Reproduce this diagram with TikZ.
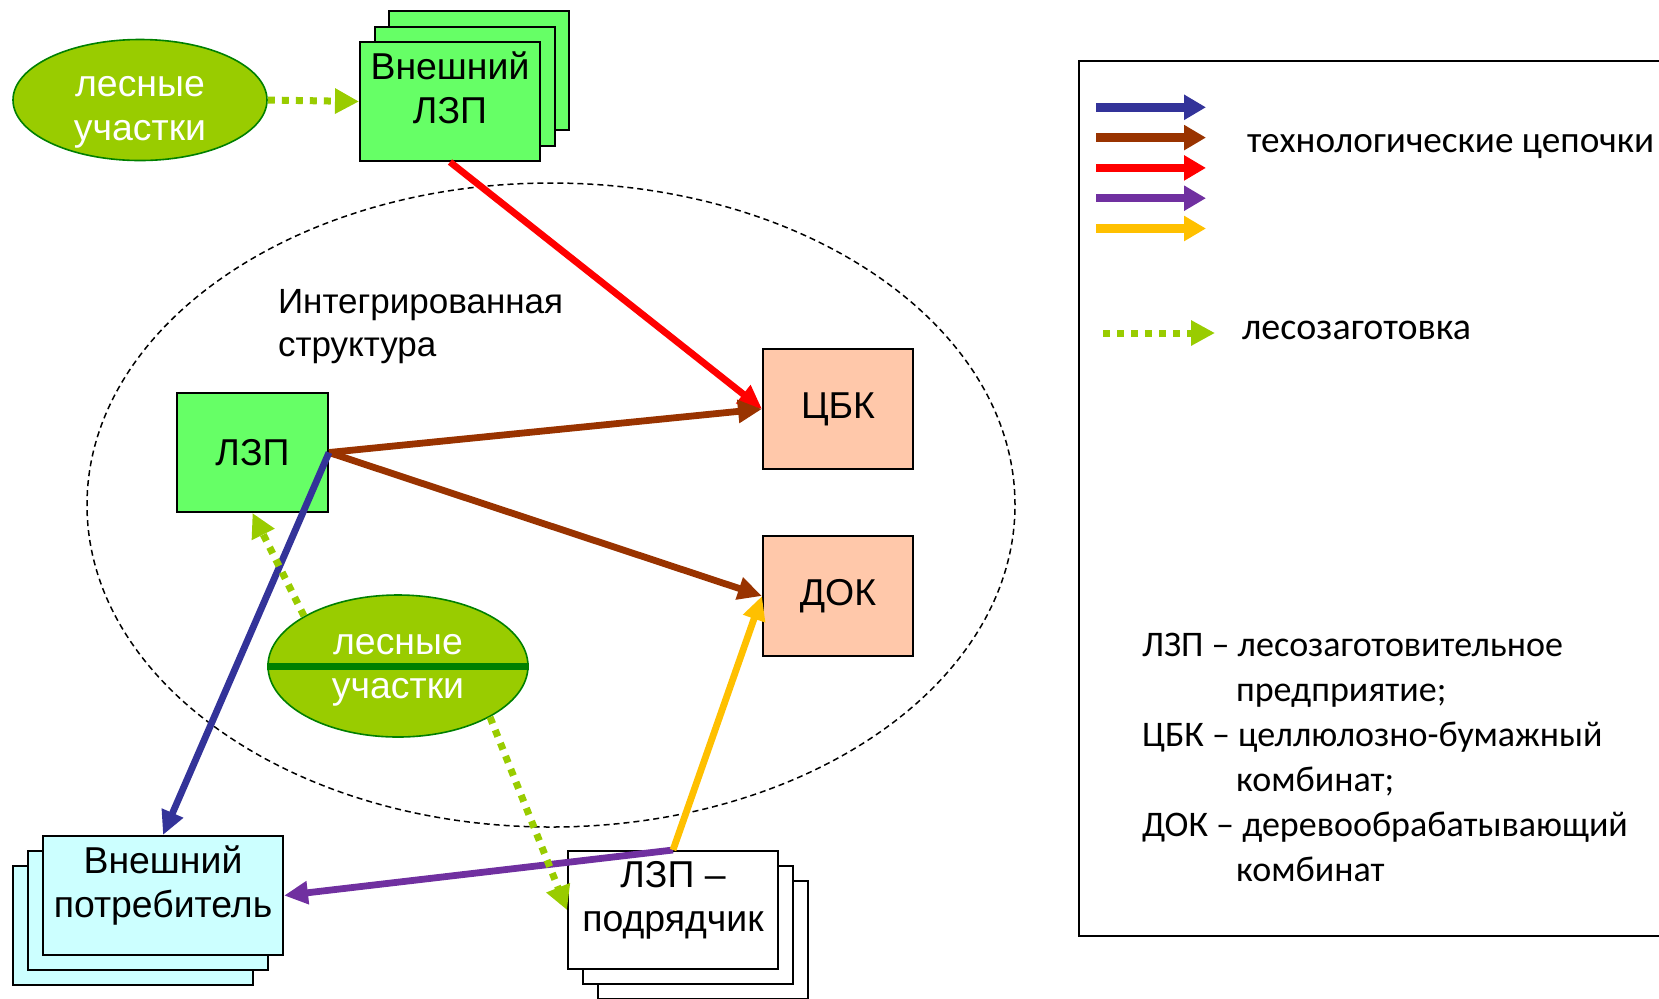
\documentclass[tikz,border=0pt]{standalone}
\usepackage{fontspec}
\setmainfont{Liberation Sans}
\newfontfamily\legendfont{Carlito}
\usetikzlibrary{positioning, shapes.geometric, arrows.meta}
\definecolor{boxgreen}{HTML}{66FF66}
\definecolor{forestfill}{HTML}{99CC00}
\definecolor{forestdark}{HTML}{008000}
\definecolor{peach}{HTML}{FFC8AA}
\definecolor{palecyan}{HTML}{CCFFFF}
\definecolor{chainblue}{HTML}{333399}
\definecolor{chainbrown}{HTML}{993300}
\definecolor{chainred}{HTML}{FF0000}
\definecolor{chainpurple}{HTML}{7030A0}
\definecolor{chainyellow}{HTML}{FFC000}
\tikzset{
  every node/.style={text=black, font=\fontsize{18.7}{22}\selectfont},
  firm/.style={rectangle, draw=black, line width=1pt, align=center},
  forest/.style={ellipse, draw=forestdark, fill=forestfill, line width=0.8pt, inner sep=0pt},
  foresttext/.style={text=white, align=center},
  chain/.style={line width=3.4pt, -{Triangle[length=12pt, width=11pt]}},
  harvest/.style={draw=forestfill, line width=3.5pt, dash pattern=on 3.5pt off 3.5pt, -{Triangle[length=12pt, width=12pt]}},
  legarrow/.style={line width=4.2pt, -{Triangle[length=11pt, width=12pt]}},
  legendtext/.style={font=\legendfont\fontsize{18}{22.5}\selectfont}
}

\begin{document}
\begin{tikzpicture}[x=0.5pt, y=-0.5pt]
  \useasboundingbox (0,0) rectangle (1659,998);
  % Integrated structure
  \node (integ) [draw, ellipse, line width=0.75pt, dash pattern=on 3pt off 2pt, minimum width=464pt, minimum height=322pt] at (551,505) {};
  \node (integlabel) [anchor=west, align=left, font=\fontsize{17.5}{21.5}\selectfont] at (271,327) {Интегрированная\\структура};

  % Nodes
  \node (forestout) [forest, minimum width=127pt, minimum height=60.5pt] at (140,100) {};
  \node (forestouttext) [foresttext] at (140,112) {лесные\\участки};
  \node (extlzpback) [firm, fill=boxgreen, minimum width=90pt, minimum height=59.5pt, xshift=14.5pt, yshift=15.5pt] at (450,101.5) {};
  \node (extlzpmid) [firm, fill=boxgreen, minimum width=90pt, minimum height=59.5pt, xshift=7.25pt, yshift=7.75pt] at (450,101.5) {};
  \node (extlzp) [firm, fill=boxgreen, minimum width=90pt, minimum height=59.5pt] at (450,101.5) {};
  \node (extlzptext) [align=center] at (450,88) {Внешний\\ЛЗП};

  \node (lzp) [firm, fill=boxgreen, minimum width=75.5pt, minimum height=59.5pt] at (252.5,452.5) {ЛЗП};
  \node (cbk) [firm, fill=peach, minimum width=75pt, minimum height=60pt] at (838,409) {ЦБК};
  \node (dok) [firm, fill=peach, minimum width=75pt, minimum height=60pt] at (838,596) {ДОК};
  \node (forestin) [forest, minimum width=130pt, minimum height=71pt] at (398,666) {};
  \draw[forestdark, line width=3.5pt] (forestin.west) -- (forestin.east);
  \node (forestintext) [foresttext] at (398,670) {лесные\\участки};

  \node (consumerback) [firm, fill=palecyan, minimum width=120pt, minimum height=59.5pt, xshift=-15pt, yshift=-15pt] at (163,895.5) {};
  \node (consumermid) [firm, fill=palecyan, minimum width=120pt, minimum height=59.5pt, xshift=-7.5pt, yshift=-7.5pt] at (163,895.5) {};
  \node (consumer) [firm, fill=palecyan, minimum width=120pt, minimum height=59.5pt] at (163,895.5) {};
  \node (consumertext) [align=center] at (163,885) {Внешний\\потребитель};

  \node (contractorback) [firm, fill=white, minimum width=105pt, minimum height=59pt, xshift=15pt, yshift=-15pt] at (673,910) {};
  \node (contractormid) [firm, fill=white, minimum width=105pt, minimum height=59pt, xshift=7.5pt, yshift=-7.5pt] at (673,910) {};
  \node (contractor) [firm, fill=white, minimum width=105pt, minimum height=59pt] at (673,910) {};
  \node (contractortext) [align=center] at (673,900.5) {ЛЗП –\\подрядчик};

  % Connectors
  \draw[chain, chainred] (extlzp.south) -- (cbk.west);
  \draw[chain, chainbrown] (lzp.east) -- (cbk.west);
  \draw[chain, chainbrown] (lzp.east) -- (dok.west);
  \draw[chain, chainblue] (lzp.east) -- (consumer.north);
  \draw[chain, chainpurple] (contractor.north) -- (consumer.east);
  \draw[chain, chainyellow] (contractor.north) -- (dok.west);
  \draw[harvest] (forestout.east) -- (extlzp.west);
  \draw[harvest] (forestin.152) -- (lzp.south);
  \draw[harvest] (forestin.-29) -- (contractor.west);

  % Legend
  \node (legend) [draw, line width=1pt, minimum width=295.5pt, minimum height=437.5pt] at (1374.5,498.5) {};
  \foreach \col [count=\i] in {chainblue, chainbrown, chainred, chainpurple, chainyellow} {
    \coordinate (legs\i) at (1096,77+30.3*\i);
    \coordinate (lege\i) at (1206,77+30.3*\i);
    \draw[legarrow, \col] (legs\i) -- (lege\i);
  }
  \node (chaintext) [legendtext, font=\legendfont\fontsize{18.6}{22}\selectfont, anchor=west] at (1240,147) {технологические цепочки};
  \coordinate (harvs) at (1103,333);
  \coordinate (harve) at (1215,333);
  \draw[harvest] (harvs) -- (harve);
  \node (harvtext) [legendtext, font=\legendfont\fontsize{19}{22}\selectfont, anchor=west] at (1235,330) {лесозаготовка};
  \node (abbrev) [legendtext, anchor=north west, align=left] at (1135,626) {ЛЗП – лесозаготовительное\\\hspace*{47pt}предприятие;\\ЦБК – целлюлозно-бумажный\\\hspace*{47pt}комбинат;\\ДОК – деревообрабатывающий\\\hspace*{47pt}комбинат};
\end{tikzpicture}
\end{document}
